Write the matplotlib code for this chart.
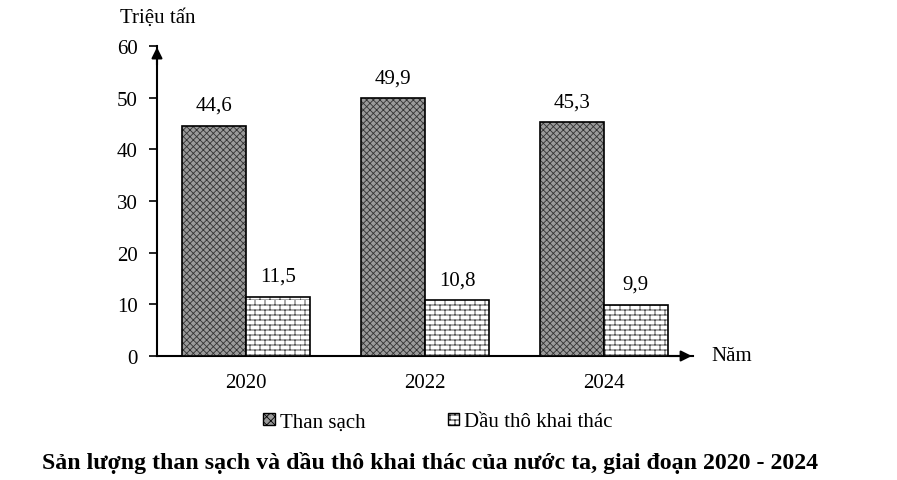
import numpy as np
import matplotlib
matplotlib.use("Agg")
import matplotlib.pyplot as plt
from matplotlib import hatch as mhatch
from matplotlib.path import Path
from matplotlib.patches import Patch


YEARS = ["2020", "2022", "2024"]
THAN_SACH = [44.6, 49.9, 45.3]
DAU_THO = [11.5, 10.8, 9.9]
LABELS = ["Than sạch", "Dầu thô khai thác"]
Y_TICKS = [0, 10, 20, 30, 40, 50, 60]


class BrickHatch(mhatch.HatchPatternBase):
    # brick wall pattern, char 'b'
    def __init__(self, hatch, density):
        n = hatch.count('b')
        self.rows = 20 * n if n else 0
        self.cols = 10 * n if n else 0
        self.num_lines = self.rows + self.rows * self.cols
        self.num_vertices = self.num_lines * 2

    def set_vertices_and_codes(self, vertices, codes):
        k = 0
        for i in range(self.rows):
            y0 = i / self.rows
            vertices[k] = (0, y0)
            vertices[k + 1] = (1, y0)
            codes[k] = Path.MOVETO
            codes[k + 1] = Path.LINETO
            k += 2
        for i in range(self.rows):
            y0 = i / self.rows
            y1 = (i + 1) / self.rows
            off = 0.5 / self.cols if i % 2 else 0
            for j in range(self.cols):
                x = j / self.cols + off
                vertices[k] = (x, y0)
                vertices[k + 1] = (x, y1)
                codes[k] = Path.MOVETO
                codes[k + 1] = Path.LINETO
                k += 2


mhatch._hatch_types.append(BrickHatch)

plt.rcParams['font.family'] = ['Liberation Serif', 'DejaVu Serif']
plt.rcParams['hatch.linewidth'] = 0.6

FS = 15

fig = plt.figure(figsize=(8.97, 4.81), dpi=100)
ax = fig.add_axes([157 / 897, 124 / 481, 536 / 897, 310 / 481])

x = np.arange(len(YEARS))
w = 0.358
b1 = ax.bar(x - w / 2, THAN_SACH, w, facecolor='#9a9a9a', edgecolor='black',
            hatch='xxxxx', linewidth=1.2, zorder=3)
for p in b1:
    p._hatch_color = (0.2, 0.2, 0.2, 1)
b2 = ax.bar(x + w / 2, DAU_THO, w, facecolor='white', edgecolor='black',
            hatch='b', linewidth=1.2, zorder=3)
for p in b2:
    p._hatch_color = (0.2, 0.2, 0.2, 1)

for xi, v in zip(x, THAN_SACH):
    ax.text(xi - w / 2, v + 2.1, f"{v:.1f}".replace('.', ','), ha='center',
            va='bottom', fontsize=FS)
for xi, v in zip(x, DAU_THO):
    ax.text(xi + w / 2, v + 2.1, f"{v:.1f}".replace('.', ','), ha='center',
            va='bottom', fontsize=FS)

ax.set_xlim(-0.5, 2.5)
ax.set_ylim(0, 60)
ax.set_yticks(Y_TICKS)
ax.set_yticklabels([str(t) for t in Y_TICKS], fontsize=FS)
ax.set_xticks(x)
ax.set_xticklabels(YEARS, fontsize=FS)
ax.tick_params(axis='x', length=0, pad=12)
ax.tick_params(axis='y', length=6, width=1.2, direction='out', pad=8)
for s in ['top', 'right']:
    ax.spines[s].set_visible(False)
ax.spines['left'].set_linewidth(1.5)
ax.spines['bottom'].set_linewidth(1.5)

# axis arrows
ax.annotate('', xy=(0, 1.005), xytext=(0, 0.93), xycoords='axes fraction',
            arrowprops=dict(arrowstyle='-|>', color='black', lw=1.5,
                            mutation_scale=16))
ax.annotate('', xy=(1.003, 0), xytext=(0.95, 0), xycoords='axes fraction',
            arrowprops=dict(arrowstyle='-|>', color='black', lw=1.5,
                            mutation_scale=16))

fig.text(120 / 897, 1 - 18 / 481, "Triệu tấn", fontsize=FS, va='center')
fig.text(711 / 897, 1 - 357 / 481, "Năm", fontsize=FS, va='center')

handles = [Patch(facecolor='#9a9a9a', edgecolor='black', hatch='xxxx'),
           Patch(facecolor='white', edgecolor='black', hatch='b')]
fig.legend(handles, LABELS, loc='center', bbox_to_anchor=(438 / 897, 1 - 423 / 481),
           ncol=2, frameon=False, fontsize=FS, handlelength=0.55, handleheight=0.55,
           handletextpad=0.25, columnspacing=3.95)

fig.text(430 / 897, 1 - 463 / 481,
         "Sản lượng than sạch và dầu thô khai thác của nước ta, giai đoạn 2020 - 2024",
         fontsize=17.2, fontweight='bold', ha='center', va='center')

fig.savefig("out.png", dpi=100)
